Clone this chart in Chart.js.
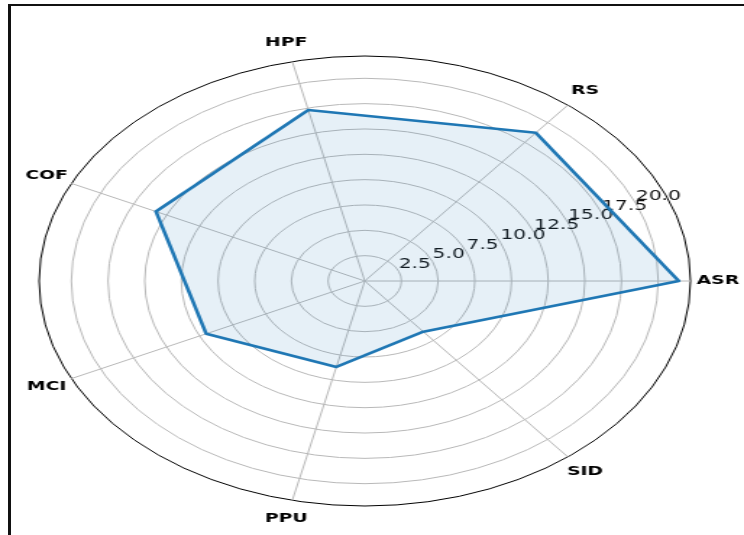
<!DOCTYPE html>
<html>
<head>
<meta charset="utf-8">
<script src="https://cdn.jsdelivr.net/npm/chart.js@4.4.1/dist/chart.umd.min.js"></script>
<style>
  html, body { margin: 0; padding: 0; background: #fff; overflow: hidden; }
  #stage { position: relative; width: 744px; height: 535px; }
  #wrap { position: absolute; left: 0; top: 0; width: 514px; height: 535px;
          transform: scaleX(1.4475); transform-origin: 0 0; }
  #frame { position: absolute; left: 8px; top: 4px; right: -10px; bottom: -10px;
           border-left: 3px solid #111; border-top: 2px solid #111; pointer-events: none; }
</style>
</head>
<body>
<div id="stage">
  <div id="wrap"><canvas id="radarChart" width="514" height="535"></canvas></div>
  <div id="frame"></div>
</div>
<script>
// categories in screen order (clockwise, starting at the right)
const categories = ['ASR', 'SID', 'PPU', 'MCI', 'COF', 'HPF', 'RS'];
const scores = [21.4, 6.4, 8.7, 12.0, 15.8, 17.3, 18.7];

// radial axis
const rTicks = [2.5, 5.0, 7.5, 10.0, 12.5, 15.0, 17.5, 20.0];
const rTickLabels = ['2.5', '5.0', '7.5', '10.0', '12.5', '15.0', '17.5', '20.0'];
const rMax = 22.2;
const rLabelAngle = 22.5; // degrees, counter-clockwise from the right

const blue = '#1f77b4';

// tick labels go under the data line, category labels on top
const radarText = {
    id: 'radarText',
    beforeDatasetsDraw(chart) {
        const scale = chart.scales.r;
        const ctx = chart.ctx;
        ctx.save();
        ctx.font = '14px "DejaVu Sans"';
        ctx.fillStyle = '#111';
        ctx.textAlign = 'left';
        ctx.textBaseline = 'bottom';
        rTicks.forEach((v, i) => {
            const p = scale.getPointPosition(0, scale.getDistanceFromCenterForValue(v), -rLabelAngle * Math.PI / 180);
            ctx.fillText(rTickLabels[i], p.x, p.y);
        });
        ctx.restore();
    },
    afterDraw(chart) {
        const scale = chart.scales.r;
        const ctx = chart.ctx;
        ctx.save();
        ctx.font = 'bold 13px "DejaVu Sans"';
        ctx.fillStyle = '#000';
        ctx.textAlign = 'center';
        ctx.textBaseline = 'middle';
        const dist = scale.getDistanceFromCenterForValue(rMax) + 19;
        categories.forEach((c, i) => {
            const p = scale.getPointPosition(i, dist);
            ctx.fillText(c, p.x, p.y);
        });
        ctx.restore();
    }
};

const ctx = document.getElementById('radarChart').getContext('2d');
const radarChart = new Chart(ctx, {
    type: 'radar',
    data: {
        labels: categories,
        datasets: [{
            data: scores,
            borderColor: blue,
            backgroundColor: 'rgba(31, 119, 180, 0.11)',
            borderWidth: 2.6,
            borderJoinStyle: 'round',
            pointRadius: 0,
            fill: true
        }]
    },
    options: {
        responsive: false,
        animation: false,
        layout: { padding: { left: 27, right: 37, top: 56, bottom: 29 } },
        plugins: { legend: { display: false }, tooltip: { enabled: false } },
        scales: {
            r: {
                min: 0,
                max: rMax,
                startAngle: 90,
                afterBuildTicks: (scale) => {
                    scale.ticks = [0, ...rTicks, rMax].map(v => ({ value: v }));
                },
                ticks: { display: false },
                pointLabels: { display: false },
                grid: {
                    circular: true,
                    color: (c) => (c.tick && c.tick.value === rMax) ? '#000' : '#b8b8b8',
                    lineWidth: 1
                },
                angleLines: { color: '#b8b8b8', lineWidth: 1 }
            }
        }
    },
    plugins: [radarText]
});
</script>
</body>
</html>
